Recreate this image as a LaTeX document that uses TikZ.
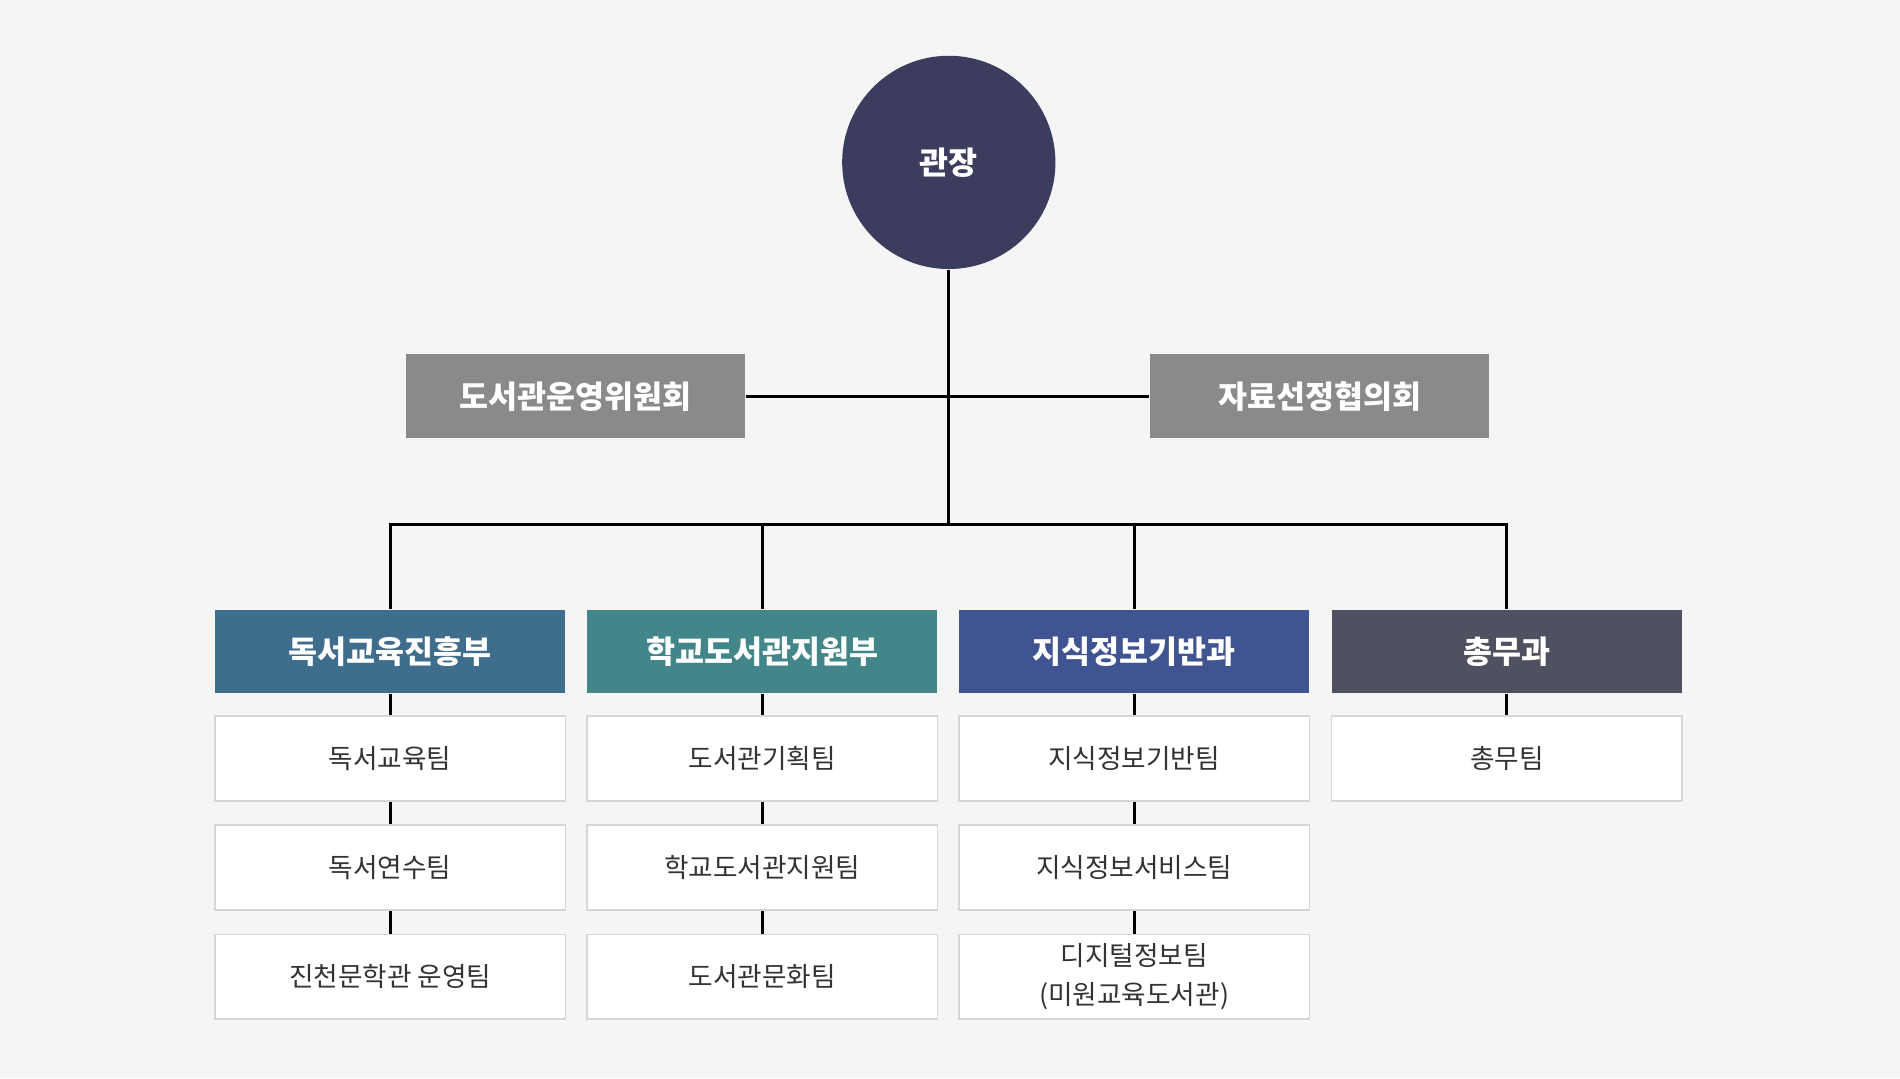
\documentclass[tikz,border=0pt]{standalone}
\usepackage{fontspec}
\setmainfont{Noto Sans CJK KR}
\definecolor{bg}{HTML}{F5F5F5}
\definecolor{chief}{HTML}{3C3D5E}
\definecolor{grayb}{HTML}{8A8A8A}
\definecolor{h1}{HTML}{3F6D8C}
\definecolor{h2}{HTML}{43868A}
\definecolor{h3}{HTML}{3F5490}
\definecolor{h4}{HTML}{4F5060}
\definecolor{bord}{HTML}{D6D6D6}
\begin{document}
\begin{tikzpicture}[x=0.5pt,y=-0.5pt,
  committee/.style={fill=grayb,text=white,font=\fontsize{13}{15}\selectfont\bfseries,minimum width=140pt,minimum height=34.5pt,inner sep=0pt},
  head/.style={text=white,font=\fontsize{13}{15}\selectfont\bfseries,minimum width=144.5pt,minimum height=34.5pt,inner sep=0pt},
  sub/.style={fill=white,draw=bord,line width=0.6pt,font=\fontsize{11}{15}\selectfont,minimum width=144.5pt,minimum height=35pt,inner sep=0pt,align=center,text=black!80},
  ln/.style={line width=1.3pt,black}]
\fill[bg] (0,0) rectangle (1568,890);
\useasboundingbox (0,0) rectangle (1568,890);
\node[circle,fill=chief,minimum size=88pt,inner sep=0pt,text=white,font=\fontsize{13}{15}\selectfont\bfseries] (c) at (783,134) {관장};
\node[committee] (k1) at (475,327) {도서관운영위원회};
\node[committee] (k2) at (1089,327) {자료선정협의회};
\coordinate (j) at (783,327);
\coordinate (b) at (783,433);
\draw[ln] (c.south) -- (b);
\draw[ln] (k1.east) -- (k2.west);
\node[head,fill=h1] (a) at (322,537.5) {독서교육진흥부};
\node[head,fill=h2] (bb) at (629,537.5) {학교도서관지원부};
\node[head,fill=h3] (cc) at (936,537.5) {지식정보기반과};
\node[head,fill=h4] (d) at (1243.5,537.5) {총무과};
\draw[ln] (a.north) |- (b) -| (d.north);
\draw[ln] (bb.north) -- (bb.north |- b);
\draw[ln] (cc.north) -- (cc.north |- b);
\node[sub] (a1) at (322,626) {독서교육팀};
\node[sub] (a2) at (322,716) {독서연수팀};
\node[sub] (a3) at (322,806) {진천문학관 운영팀};
\node[sub] (b1) at (629,626) {도서관기획팀};
\node[sub] (b2) at (629,716) {학교도서관지원팀};
\node[sub] (b3) at (629,806) {도서관문화팀};
\node[sub] (c1) at (936,626) {지식정보기반팀};
\node[sub] (c2) at (936,716) {지식정보서비스팀};
\node[sub,font=\fontsize{11}{16}\selectfont] (c3) at (936,806) {디지털정보팀\\(미원교육도서관)};
\node[sub] (d1) at (1243.5,626) {총무팀};
\foreach \p/\q in {a/a1,a1/a2,a2/a3,bb/b1,b1/b2,b2/b3,cc/c1,c1/c2,c2/c3,d/d1}
  \draw[ln] (\p.south) -- (\q.north);
\end{tikzpicture}
\end{document}
